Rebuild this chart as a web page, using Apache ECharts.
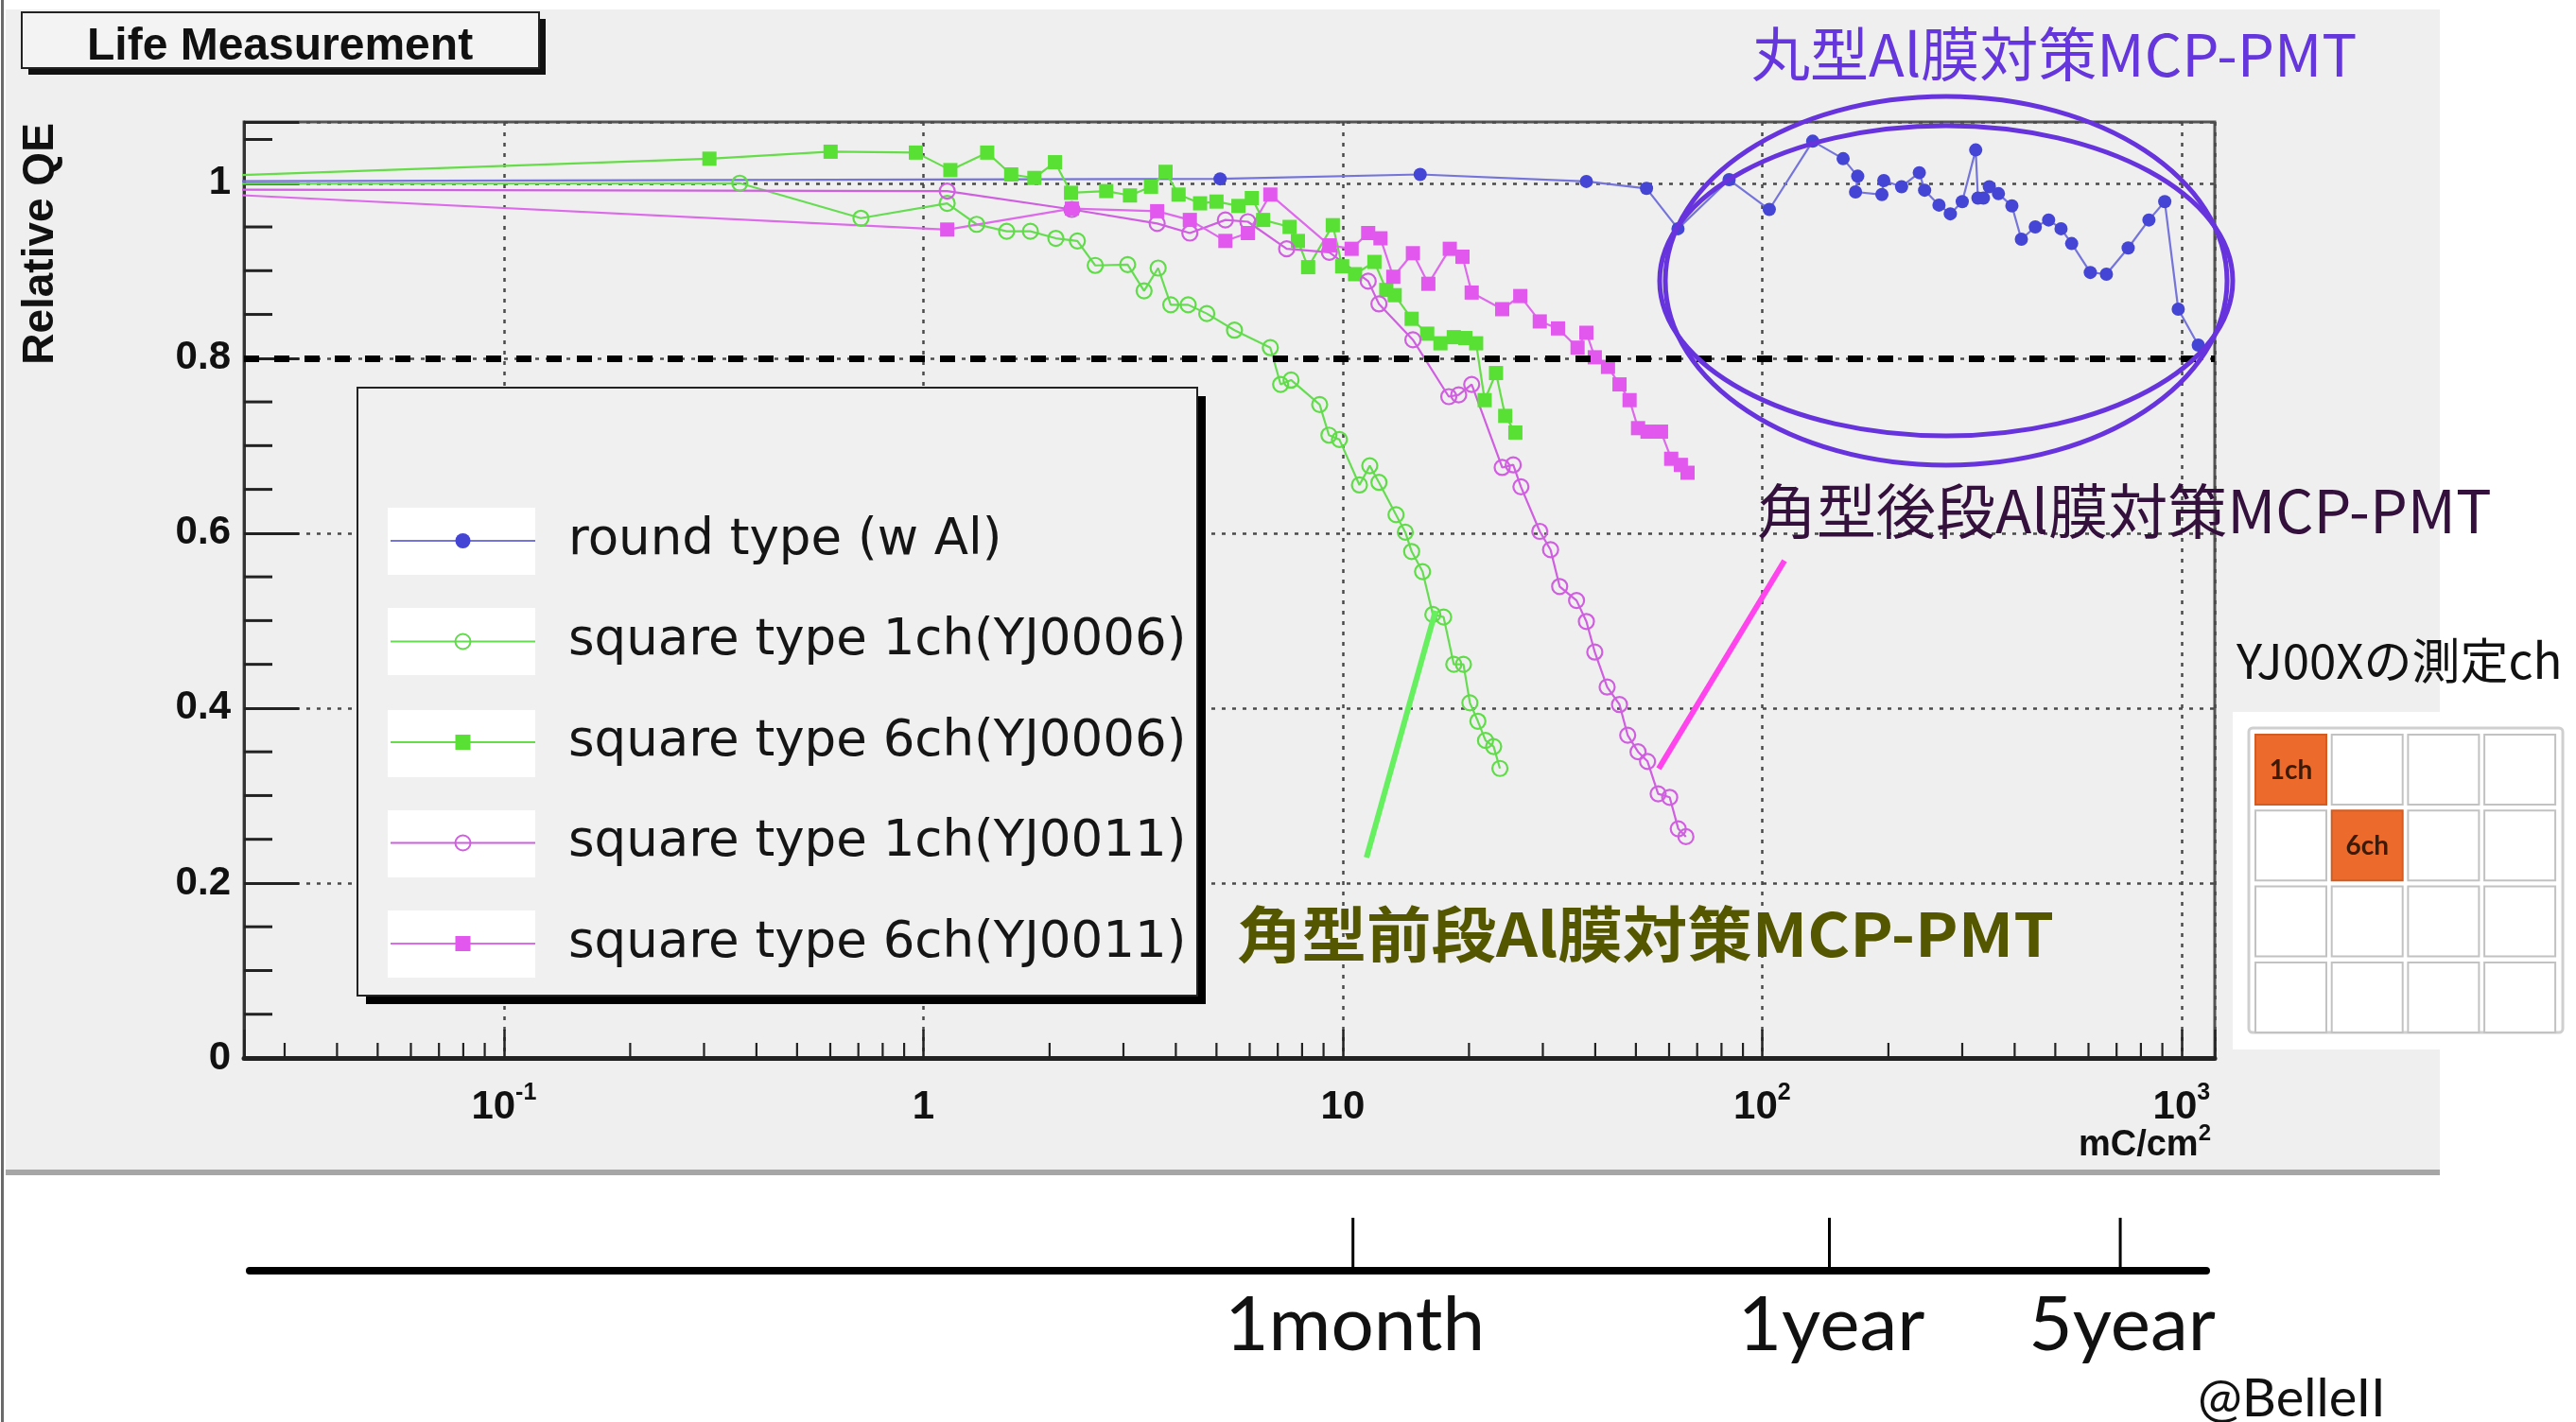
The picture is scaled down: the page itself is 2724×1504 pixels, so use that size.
<!DOCTYPE html>
<html>
<head>
<meta charset="utf-8">
<title>Life Measurement</title>
<script src="https://cdn.jsdelivr.net/npm/echarts@6/dist/echarts.min.js"></script>
<style>
  html, body { margin: 0; padding: 0; background: #ffffff; }
  #chart { width: 2724px; height: 1504px; }
</style>
</head>
<body>
<div id="chart"></div>
<script>
// Relative QE versus integrated output charge [mC/cm^2], log x axis.
// Each point: [charge, relative QE]. The first point of each run lies left of
// the visible range, so the curve enters from the frame edge.

const roundTypeAl = [
  [0.01, 1.002], [5.1, 1.005], [15.3, 1.010], [38.1, 1.002], [53, 0.994], [63, 0.948],
  [83.4, 1.004], [104, 0.970], [132, 1.048], [156, 1.028], [169, 1.008], [167, 0.990],
  [193, 0.987], [195, 1.003], [215, 0.996], [237, 1.012], [244, 0.992], [264, 0.975],
  [281, 0.965], [300, 0.979], [323, 1.038], [327, 0.983], [337, 0.983], [348, 0.996],
  [366, 0.988], [394, 0.974], [415, 0.936], [448, 0.950], [482, 0.958], [516, 0.948],
  [547, 0.931], [606, 0.898], [662, 0.896], [746, 0.926], [836, 0.958], [912, 0.979],
  [982, 0.856], [1096, 0.815]
];

const square1chYJ0006 = [
  [0.01, 0.999], [0.365, 1.000], [0.71, 0.960], [1.14, 0.977], [1.34, 0.953], [1.58, 0.945],
  [1.80, 0.945], [2.07, 0.937], [2.33, 0.934], [2.57, 0.906], [3.07, 0.907], [3.36, 0.877],
  [3.63, 0.903], [3.89, 0.861], [4.28, 0.861], [4.74, 0.851], [5.52, 0.832], [6.72, 0.812],
  [7.11, 0.770], [7.53, 0.775], [8.81, 0.747], [9.27, 0.712], [9.82, 0.707], [10.96, 0.655],
  [11.6, 0.677], [12.2, 0.658], [13.4, 0.621], [14.1, 0.601], [14.6, 0.579], [15.5, 0.556],
  [16.4, 0.507], [17.4, 0.504], [18.4, 0.450], [19.4, 0.450], [20.1, 0.406], [21.0, 0.385],
  [21.9, 0.363], [22.9, 0.356], [23.7, 0.331]
];

const square6chYJ0006 = [
  [0.01, 1.003], [0.309, 1.028], [0.601, 1.036], [0.96, 1.035], [1.16, 1.015], [1.42, 1.035],
  [1.62, 1.010], [1.84, 1.006], [2.06, 1.024], [2.25, 0.989], [2.73, 0.991], [3.11, 0.986],
  [3.49, 0.996], [3.78, 1.013], [4.06, 0.987], [4.57, 0.977], [5.00, 0.979], [5.64, 0.974],
  [6.07, 0.983], [6.46, 0.958], [7.47, 0.950], [7.82, 0.934], [8.27, 0.904], [9.47, 0.952],
  [9.97, 0.905], [10.7, 0.896], [11.9, 0.910], [12.7, 0.878], [13.3, 0.872], [14.6, 0.845],
  [15.9, 0.828], [17.1, 0.817], [18.4, 0.824], [19.6, 0.823], [20.8, 0.817], [21.8, 0.752],
  [23.2, 0.783], [24.4, 0.734], [25.8, 0.715]
];

const square1chYJ0011 = [
  [0.01, 0.993], [1.14, 0.991], [2.26, 0.970], [3.61, 0.954], [4.32, 0.943], [5.25, 0.958],
  [5.94, 0.956], [7.35, 0.925], [9.29, 0.921], [11.5, 0.888], [12.2, 0.862], [14.7, 0.821],
  [17.9, 0.756], [18.9, 0.758], [20.3, 0.770], [24.0, 0.675], [25.5, 0.678], [26.6, 0.653],
  [29.5, 0.602], [31.3, 0.581], [32.9, 0.539], [36.1, 0.523], [38.1, 0.499], [39.9, 0.464],
  [42.7, 0.424], [45.7, 0.404], [47.8, 0.369], [50.6, 0.350], [53.3, 0.339], [56.5, 0.302],
  [60.2, 0.298], [63.1, 0.262], [65.8, 0.253]
];

const square6chYJ0011 = [
  [0.01, 0.995], [1.14, 0.947], [2.26, 0.971], [3.61, 0.968], [4.32, 0.958], [5.25, 0.934],
  [5.94, 0.943], [6.72, 0.987], [9.29, 0.929], [10.5, 0.925], [11.5, 0.943], [12.3, 0.937],
  [13.2, 0.893], [14.7, 0.920], [16.0, 0.885], [18.0, 0.925], [19.3, 0.916], [20.3, 0.875],
  [24.0, 0.856], [26.5, 0.871], [29.5, 0.842], [32.6, 0.834], [36.3, 0.812], [38.1, 0.829],
  [39.9, 0.801], [42.9, 0.790], [45.7, 0.770], [48.3, 0.752], [50.6, 0.720], [53.3, 0.716],
  [57.4, 0.716], [60.7, 0.685], [64.0, 0.678], [66.4, 0.669]
];

const seriesNames = [
  'round type (w Al)',
  'square type 1ch(YJ0006)',
  'square type 6ch(YJ0006)',
  'square type 1ch(YJ0011)',
  'square type 6ch(YJ0011)'
];

// Axis ranges and tick values
const xMin = 0.024, xMax = 1200;
const yMin = 0, yMax = 1.07, yStep = 0.2;
const xDecades = [-1, 0, 1, 2, 3];
const xDecadeMantissa = ['10', '1', '10', '10', '10'];
const xDecadeExponent = ['-1', '', '', '2', '3'];
const xMinorTicks = [
  0.03, 0.04, 0.05, 0.06, 0.07, 0.08, 0.09,
  0.2, 0.3, 0.4, 0.5, 0.6, 0.7, 0.8, 0.9,
  2, 3, 4, 5, 6, 7, 8, 9,
  20, 30, 40, 50, 60, 70, 80, 90,
  200, 300, 400, 500, 600, 700, 800, 900
];
const yMinorTicks = [0.05, 0.1, 0.15, 0.25, 0.3, 0.35, 0.45, 0.5, 0.55, 0.65, 0.7, 0.75,
                     0.85, 0.9, 0.95, 1.05];
const qeThreshold = 0.8;

// Elapsed-time scale (equivalent charge for the given running period)
const timeMarkValues = [10.6, 145, 716];
const timeMarkLabels = ['1month', '1year', '5year'];
const timeAxisMin = 0.0248, timeAxisMax = 1148;

// Channel map of the square MCP-PMT (4x4), measured channels highlighted
const chMapLabels = ['1ch', '', '', '', '', '6ch', '', '', '', '', '', '', '', '', '', ''];

const FONT_AX = 'Liberation Sans';
const FONT_JP = '"Noto Sans CJK JP"';

const chart = echarts.init(document.getElementById('chart'), null, { renderer: 'canvas' });

function lineSeries(name, data, symbol, size, fill, stroke, lineColor) {
  return {
    name: name,
    type: 'line',
    data: data,
    symbol: symbol,
    symbolSize: size,
    clip: true,
    itemStyle: fill
      ? { color: fill, borderWidth: 0 }
      : { color: 'rgba(0,0,0,0)', borderColor: stroke, borderWidth: 2.2 },
    lineStyle: { color: lineColor, width: 2.2 },
    emphasis: { disabled: true },
    animation: false,
    z: 3
  };
}

const legendRowCenters = [572, 678, 786, 892, 998];

const graphics = [
  // canvas backdrop
  { type: 'rect', z: -1, shape: { x: 6, y: 10, width: 2574, height: 1230 }, style: { fill: '#efefef' } },
  { type: 'rect', z: -1, shape: { x: 6, y: 1237, width: 2574, height: 6 }, style: { fill: '#a6a6a6' } },
  { type: 'rect', z: -1, shape: { x: 1, y: 0, width: 3, height: 1504 }, style: { fill: '#6a6a6a' } },
  // title frame
  { type: 'rect', z: 1, shape: { x: 30, y: 20, width: 547, height: 59 }, style: { fill: '#111' } },
  { type: 'rect', z: 1, shape: { x: 23, y: 13, width: 547, height: 59 }, style: { fill: '#f3f3f3', stroke: '#222', lineWidth: 2 } },
  // legend frame
  { type: 'rect', z: 5, shape: { x: 387, y: 419, width: 888, height: 643 }, style: { fill: '#000' } },
  { type: 'rect', z: 5, shape: { x: 378, y: 410, width: 888, height: 643 }, style: { fill: '#f0f0f0', stroke: '#222', lineWidth: 2 } },
  // y axis title
  { type: 'text', z: 10, x: 43, y: 258, rotation: Math.PI / 2,
    style: { text: 'Relative QE', font: 'bold 46px "' + FONT_AX + '"', fill: '#111', align: 'center', verticalAlign: 'middle' } },
  // x axis unit
  { type: 'text', z: 10, x: 2338, y: 1212,
    style: { text: '{a|mC/cm}{s|2}', align: 'right', verticalAlign: 'middle',
      rich: {
        a: { fontFamily: FONT_AX, fontWeight: 'bold', fontSize: 38, fill: '#111', lineHeight: 50 },
        s: { fontFamily: FONT_AX, fontWeight: 'bold', fontSize: 24, fill: '#111', lineHeight: 50, padding: [0, 0, 26, 0] }
      } } },
  // annotations
  { type: 'text', z: 20, x: 1852, y: 57,
    style: { text: '丸型Al膜対策MCP-PMT', font: '62px ' + FONT_JP, fill: '#6536dc', align: 'left', verticalAlign: 'middle' } },
  { type: 'ellipse', z: 20, shape: { cx: 2058, cy: 297, rx: 297, ry: 195 }, style: { fill: 'none', stroke: '#6633dd', lineWidth: 5 } },
  { type: 'ellipse', z: 20, shape: { cx: 2058, cy: 297, rx: 303, ry: 164 }, style: { fill: 'none', stroke: '#6633dd', lineWidth: 5 } },
  { type: 'text', z: 20, x: 1858, y: 540,
    style: { text: '角型後段Al膜対策MCP-PMT', font: '63px ' + FONT_JP, fill: '#34103c', align: 'left', verticalAlign: 'middle' } },
  { type: 'line', z: 20, shape: { x1: 1754, y1: 813, x2: 1887, y2: 593 }, style: { stroke: '#ff44ee', lineWidth: 6 } },
  { type: 'text', z: 20, x: 1308, y: 988, scaleX: 1.07,
    style: { text: '角型前段Al膜対策MCP-PMT', font: 'bold 64px ' + FONT_JP, fill: '#555700', align: 'left', verticalAlign: 'middle' } },
  { type: 'line', z: 20, shape: { x1: 1445, y1: 907, x2: 1518, y2: 646 }, style: { stroke: '#66f060', lineWidth: 6 } },
  // channel map
  { type: 'text', z: 20, x: 2365, y: 699,
    style: { text: 'YJ00Xの測定ch', font: '51px ' + FONT_JP, fill: '#111', align: 'left', verticalAlign: 'middle' } },
  { type: 'rect', z: 19, shape: { x: 2361, y: 753, width: 363, height: 357 }, style: { fill: '#ffffff' } },
  { type: 'rect', z: 20, shape: { x: 2378, y: 770, width: 332, height: 322, r: 4 }, style: { fill: '#ffffff', stroke: '#cfcfcf', lineWidth: 3 } },
  // credit
  { type: 'text', z: 20, x: 2324, y: 1480,
    style: { text: '@BelleII', font: '56px Lato', fill: '#111', align: 'left', verticalAlign: 'middle' } }
];

legendRowCenters.forEach(function (cy) {
  graphics.push({ type: 'rect', z: 6, shape: { x: 410, y: cy - 35, width: 156, height: 71 }, style: { fill: '#ffffff' } });
});

chMapLabels.forEach(function (lab, i) {
  const col = i % 4, row = Math.floor(i / 4);
  const x = 2385 + col * 80.7, y = 777 + row * 80.3;
  const on = lab !== '';
  graphics.push({ type: 'rect', z: 21, shape: { x: x, y: y, width: 75, height: 74 },
    style: { fill: on ? '#ec6a2b' : '#ffffff', stroke: on ? '#d35c22' : '#c2c2c2', lineWidth: 2 } });
  if (on) {
    graphics.push({ type: 'text', z: 22, x: x + 37.5, y: y + 38,
      style: { text: lab, font: 'bold 28px Lato', fill: '#3a1a08', align: 'center', verticalAlign: 'middle' } });
  }
});

const gridDots = { color: '#4a4a4a', width: 2.5, type: [4, 7] };

const option = {
  backgroundColor: '#ffffff',
  animation: false,
  title: {
    text: 'Life Measurement',
    left: 92, top: 24,
    padding: 0,
    z: 8,
    textStyle: { fontFamily: FONT_AX, fontWeight: 'bold', fontSize: 48, color: '#111', lineHeight: 52 }
  },
  legend: {
    orient: 'vertical',
    left: 412, top: 540,
    padding: 0,
    itemGap: 42.5,
    itemWidth: 153, itemHeight: 20,
    selectedMode: false,
    z: 10,
    textStyle: { fontFamily: 'DejaVu Sans', fontSize: 53, color: '#151515', lineHeight: 64, padding: [0, 0, 0, 30] },
    data: seriesNames
  },
  grid: [
    { left: 258, top: 129, width: 2084, height: 990, show: true, borderColor: '#555', borderWidth: 3,
      backgroundColor: 'transparent', outerBoundsMode: 'none', containLabel: false },
    { left: 264, top: 1250, width: 2069, height: 94, show: false, outerBoundsMode: 'none', containLabel: false }
  ],
  xAxis: [
    {
      type: 'log', logBase: 10, gridIndex: 0, min: xMin, max: xMax,
      axisLine: { show: true, lineStyle: { color: '#222', width: 5 } },
      axisTick: { show: true, inside: true, length: 30, lineStyle: { color: '#222', width: 2.5 } },
      minorTick: { show: false },
      splitLine: { show: true, lineStyle: gridDots },
      axisLabel: {
        show: true, margin: 22, showMinLabel: true, showMaxLabel: true,
        formatter: function (v) {
          const l = Math.log10(v), r = Math.round(l);
          if (Math.abs(l - r) > 1e-6) return '';
          const i = xDecades.indexOf(r);
          if (i < 0) return '';
          return '{b|' + xDecadeMantissa[i] + '}' + (xDecadeExponent[i] ? '{s|' + xDecadeExponent[i] + '}' : '');
        },
        rich: {
          b: { fontFamily: FONT_AX, fontWeight: 'bold', fontSize: 42, color: '#111', lineHeight: 60 },
          s: { fontFamily: FONT_AX, fontWeight: 'bold', fontSize: 25, color: '#111', lineHeight: 30, padding: [0, 0, 30, 0] }
        }
      }
    },
    {
      type: 'log', logBase: 10, gridIndex: 1, min: timeAxisMin, max: timeAxisMax,
      axisLine: { show: true, lineStyle: { color: '#000', width: 8 } },
      axisTick: { show: false }, axisLabel: { show: false }, splitLine: { show: false }
    }
  ],
  yAxis: [
    {
      type: 'value', gridIndex: 0, min: yMin, max: yMax, interval: yStep,
      axisLine: { show: true, lineStyle: { color: '#333', width: 3 } },
      axisTick: { show: true, inside: true, length: 58, lineStyle: { color: '#222', width: 3 } },
      minorTick: { show: false },
      splitLine: { show: true, lineStyle: gridDots },
      axisLabel: {
        show: true, margin: 14,
        fontFamily: FONT_AX, fontWeight: 'bold', fontSize: 42, color: '#111',
        formatter: function (v) {
          if (v > 1.0001) return '';
          return String(Math.round(v * 10) / 10);
        }
      }
    },
    { type: 'value', gridIndex: 1, min: 0, max: 1, show: false }
  ],
  series: [
    Object.assign(lineSeries(seriesNames[0], roundTypeAl, 'circle', 14, '#4545d5', null, '#7474da'), {
      markLine: {
        silent: true, symbol: 'none', animation: false,
        label: { show: false },
        lineStyle: { color: '#000', width: 7, type: [16, 16] },
        emphasis: { disabled: true },
        data: [{ yAxis: qeThreshold }]
      }
    }),
    lineSeries(seriesNames[1], square1chYJ0006, 'circle', 16, null, '#5fdc48', '#66dc52'),
    lineSeries(seriesNames[2], square6chYJ0006, 'rect', 15, '#58e034', null, '#66dd48'),
    lineSeries(seriesNames[3], square1chYJ0011, 'circle', 16, null, '#d05fe0', '#cf5ee0'),
    lineSeries(seriesNames[4], square6chYJ0011, 'rect', 15, '#e258ef', null, '#dc6aea'),
    // logarithmic minor ticks on the charge axis
    {
      type: 'custom', xAxisIndex: 0, yAxisIndex: 0, silent: true, z: 4, animation: false,
      data: xMinorTicks.map(function (v) { return [v, yMin]; }),
      encode: { x: 0, y: 1 },
      renderItem: function (params, api) {
        const p = api.coord([api.value(0), api.value(1)]);
        return { type: 'line', shape: { x1: p[0], y1: p[1], x2: p[0], y2: p[1] - 16 }, style: { stroke: '#222', lineWidth: 2.2 } };
      }
    },
    // minor ticks on the QE axis
    {
      type: 'custom', xAxisIndex: 0, yAxisIndex: 0, silent: true, z: 4, animation: false,
      data: yMinorTicks.map(function (v) { return [xMin, v]; }),
      encode: { x: 0, y: 1 },
      renderItem: function (params, api) {
        const p = api.coord([api.value(0), api.value(1)]);
        return { type: 'line', shape: { x1: p[0], y1: p[1], x2: p[0] + 30, y2: p[1] }, style: { stroke: '#222', lineWidth: 3 } };
      }
    },
    // elapsed-time marks
    {
      type: 'custom', xAxisIndex: 1, yAxisIndex: 1, silent: true, z: 4, animation: false,
      data: timeMarkValues.map(function (v, i) { return [v, 0, i]; }),
      encode: { x: 0, y: 1 },
      renderItem: function (params, api) {
        const p = api.coord([api.value(0), api.value(1)]);
        const label = timeMarkLabels[api.value(2)];
        return {
          type: 'group',
          children: [
            { type: 'line', shape: { x1: p[0], y1: p[1], x2: p[0], y2: p[1] - 56 }, style: { stroke: '#000', lineWidth: 3 } },
            { type: 'text', x: p[0] + 2, y: p[1] + 58,
              style: { text: label, font: '80px Lato', fill: '#111', align: 'center', verticalAlign: 'middle' } }
          ]
        };
      }
    }
  ],
  graphic: { elements: graphics }
};

chart.setOption(option);
</script>
</body>
</html>
